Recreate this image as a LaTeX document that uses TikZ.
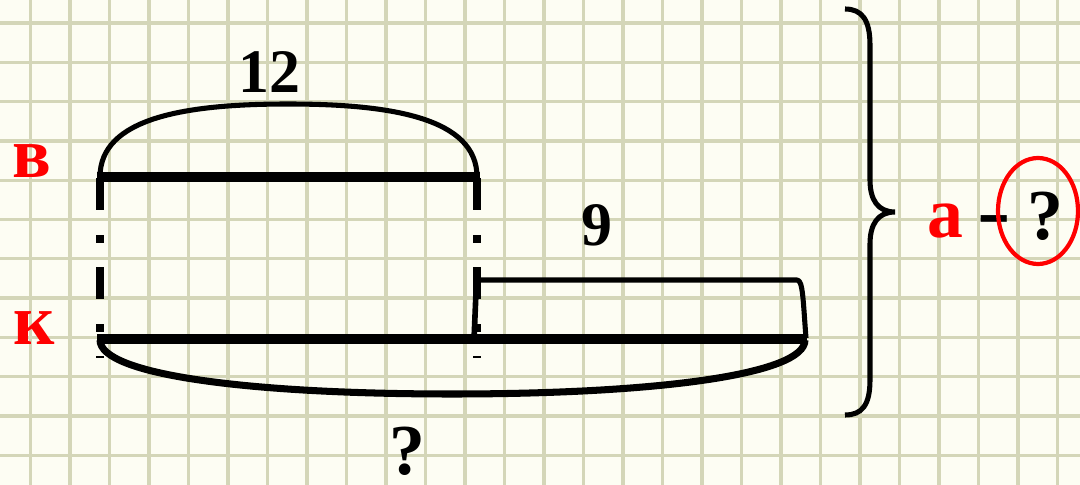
\documentclass[tikz,border=0pt]{standalone}
\usepackage{fontspec}
\setmainfont{Liberation Serif}
\usepackage{tikz}
\usepackage{xcolor}
\definecolor{paper}{RGB}{253,253,243}
\definecolor{gridline}{RGB}{212,214,184}

\begin{document}
\begin{tikzpicture}[x=0.025cm,y=-0.025cm,
  lbl/.style={font=\bfseries\fontsize{51pt}{60pt}\selectfont,inner sep=0pt,anchor=base},
  numlbl/.style={font=\bfseries\fontsize{44pt}{52pt}\selectfont,inner sep=0pt,anchor=base},
  segline/.style={line width=7.5pt},
  thinline/.style={line width=3.6pt},
  dashdot/.style={line width=5.7pt,dash pattern=on 22.8pt off 17.8pt on 5.7pt off 17.1pt}]
\useasboundingbox (0,0) rectangle (1080,485);
\fill[paper] (0,0) rectangle (1080,485);
\foreach \i in {0,...,26} \draw[gridline,line width=2.4pt] (30.5+39.5*\i,0) -- (30.5+39.5*\i,485);
\foreach \j in {0,...,11} \draw[gridline,line width=2.4pt] (0,23+39.3*\j) -- (1080,23+39.3*\j);
\draw[dashdot] (100,178) -- (100,358);
\draw[dashdot] (477,178) -- (477,358);
\draw[segline] (97,177) -- (480,177);
\draw[thinline] (100,177) .. controls (100,118) and (185,104) .. (288,104) .. controls (391,104) and (477,118) .. (477,177);
\draw[line width=4pt] (477,268) -- (474,340);
\draw[thinline,line join=round] (477,280) -- (797,280) .. controls (803,280) and (803,300) .. (806,338);
\draw[segline] (97,339) -- (807,339);
\draw[line width=5pt] (100,340) .. controls (100,375) and (250,394) .. (452,394) .. controls (654,394) and (805,375) .. (805,340);
\draw[thinline] (845,9) .. controls (862,9) and (870,20) .. (870,45) -- (870,180) .. controls (870,200) and (878,212) .. (895,212) .. controls (878,212) and (870,224) .. (870,244) -- (870,380) .. controls (870,405) and (862,415) .. (845,415);
\node[numlbl] (twelve) at (269,93) {12};
\node[numlbl] (nine) at (597,245) {9};
\node[lbl,red] (vlabel) at (32,178) {в};
\node[lbl,red] (klabel) at (34,345) {к};
\node[lbl] (qbottom) at (407,474) {?};
\node[lbl,red] (alabel) at (945,238) {а};
\node[lbl] (minus) at (994,238) {\scalebox{1.4}[1.1]{-}};
\node[lbl] (qright) at (1045,240) {?};
\draw[red,line width=3pt] (1038,211) ellipse [x radius=40, y radius=53];
\end{tikzpicture}
\end{document}
